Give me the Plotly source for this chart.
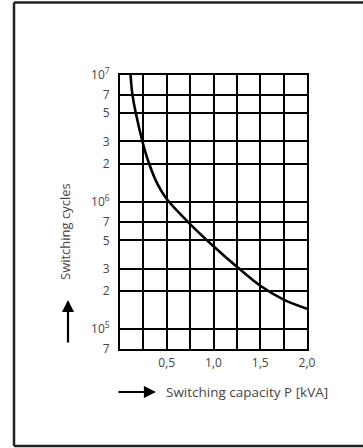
import plotly.graph_objects as go

# Curve data
capacity_kva = [0.113, 0.131, 0.166, 0.248, 0.309, 0.4, 0.5, 0.75, 1.0, 1.25, 1.5, 1.75, 2.0]
switching_cycles = [1.0e7, 7.17e6, 5.13e6, 2.85e6, 2.03e6, 1.39e6, 1.058e6, 6.72e5, 4.5e5, 3.1e5, 2.2e5, 1.71e5, 1.45e5]

# Axis ticks
x_tickvals = [0, 0.25, 0.5, 0.75, 1.0, 1.25, 1.5, 1.75, 2.0]
x_ticktext = ["", "", "0,5", "", "1,0", "", "1,5", "", "2,0"]
y_tickvals = [7e4, 1e5, 2e5, 3e5, 5e5, 7e5, 1e6, 2e6, 3e6, 5e6, 7e6, 1e7]
y_ticktext = ["7", "10<sup>5</sup>", "2", "3", "5", "7", "10<sup>6</sup>", "2", "3", "5", "7", "10<sup>7</sup>"]

W, H = 363, 448
L, R, T, B = 120, 56, 75, 99
pw, ph = W - L - R, H - T - B

def px(x):
    return (x - L) / pw

def py(y):
    return (H - B - y) / ph

fig = go.Figure()
fig.add_trace(go.Scatter(
    x=capacity_kva, y=switching_cycles, mode="lines",
    line=dict(color="black", width=2.6, shape="spline", smoothing=1.0),
    hoverinfo="skip", showlegend=False,
))

FONT = "Open Sans, Arial, sans-serif"
tickfont = dict(family=FONT, size=12, color="#444")

fig.update_xaxes(
    range=[0, 2.0], tickvals=x_tickvals, ticktext=x_ticktext,
    showgrid=True, gridcolor="black", gridwidth=2,
    showline=True, linecolor="black", linewidth=2, mirror=True,
    ticks="outside", ticklen=2, tickcolor="rgba(0,0,0,0)",
    tickfont=tickfont, zeroline=False,
)
fig.update_yaxes(
    type="log", range=[4.845, 7.0], tickvals=y_tickvals, ticktext=y_ticktext,
    showgrid=True, gridcolor="black", gridwidth=2,
    showline=True, linecolor="black", linewidth=2, mirror=True,
    ticks="outside", ticklen=6, tickcolor="rgba(0,0,0,0)",
    tickfont=tickfont, zeroline=False,
)

frame = dict(color="#222", width=2.5)
shapes = [
    dict(type="line", xref="paper", yref="paper", x0=px(14), x1=px(14), y0=py(446), y1=py(2.5), line=frame),
    dict(type="line", xref="paper", yref="paper", x0=px(14), x1=px(380), y0=py(2.5), y1=py(2.5), line=frame),
    dict(type="line", xref="paper", yref="paper", x0=px(14), x1=px(380), y0=py(446), y1=py(446), line=frame),
]

annotations = [
    dict(text="Switching cycles", xref="paper", yref="paper", x=px(65), y=py(232),
         textangle=-90, showarrow=False, font=dict(family=FONT, size=13, color="#444"),
         xanchor="center", yanchor="middle"),
    dict(text="Switching capacity P [kVA]", xref="paper", yref="paper", x=px(164), y=py(392),
         showarrow=False, font=dict(family=FONT, size=13.5, color="#444"),
         xanchor="left", yanchor="middle"),
    # up arrow
    dict(text="", xref="paper", yref="paper", x=px(68), y=py(300), ax=0, ay=44,
         axref="pixel", ayref="pixel", showarrow=True, arrowhead=2, arrowsize=1.1,
         arrowwidth=2.2, arrowcolor="black"),
    # right arrow
    dict(text="", xref="paper", yref="paper", x=px(156), y=py(392), ax=-39, ay=0,
         axref="pixel", ayref="pixel", showarrow=True, arrowhead=2, arrowsize=1.1,
         arrowwidth=2.2, arrowcolor="black"),
]

fig.update_layout(
    width=W, height=H, margin=dict(l=L, r=R, t=T, b=B, pad=0),
    paper_bgcolor="white", plot_bgcolor="white",
    shapes=shapes, annotations=annotations, showlegend=False,
)

fig.write_html("out.html", config={"displayModeBar": False},
               post_script="document.body.style.margin='0';document.body.style.overflow='hidden';")
